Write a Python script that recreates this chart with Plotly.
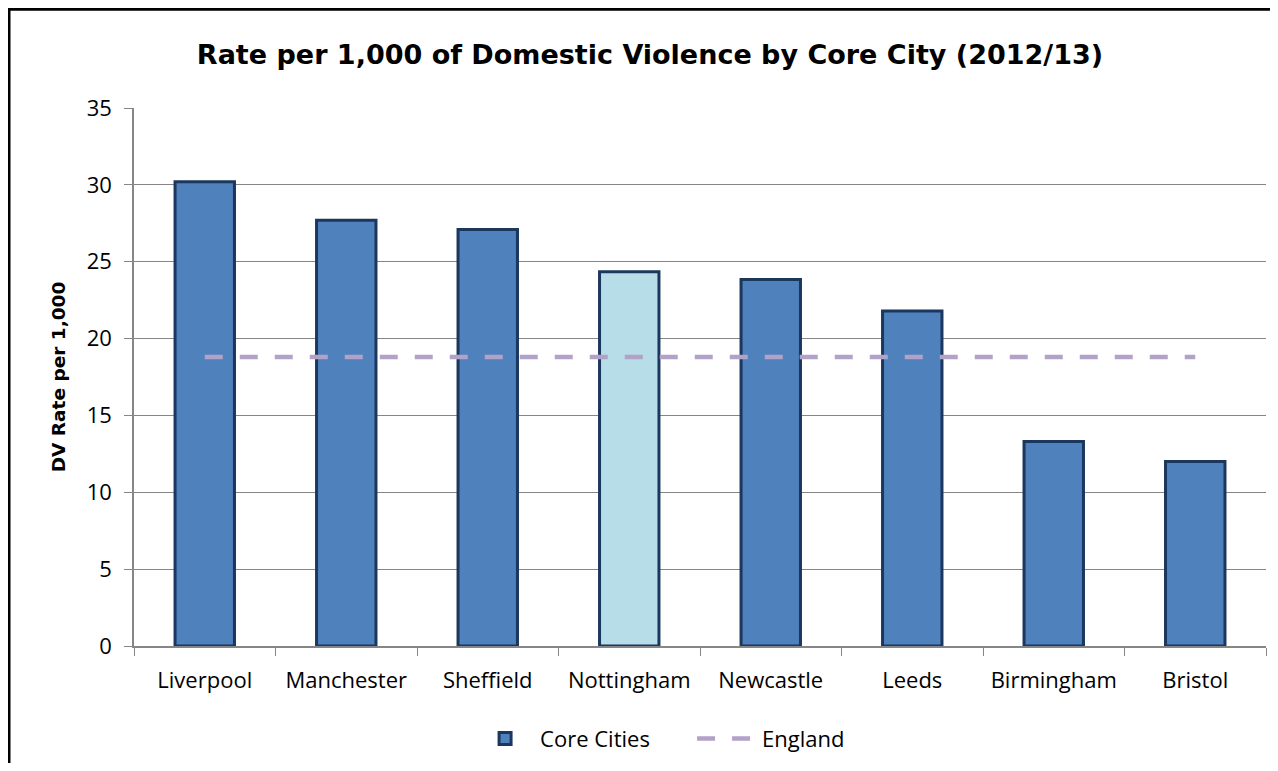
import plotly.graph_objects as go

cities = ["Liverpool", "Manchester", "Sheffield", "Nottingham", "Newcastle", "Leeds", "Birmingham", "Bristol"]
core_rates = [30.2, 27.7, 27.1, 24.35, 23.85, 21.8, 13.3, 12.0]
england_rate = [18.8] * len(cities)
bar_colors = ["#4F81BD", "#4F81BD", "#4F81BD", "#B7DDE8", "#4F81BD", "#4F81BD", "#4F81BD", "#4F81BD"]
y_ticks = [0, 5, 10, 15, 20, 25, 30, 35]

FONT = "Open Sans, Lato, sans-serif"
BOLD_FONT = "DejaVu Sans, Open Sans, sans-serif"

fig = go.Figure()
fig.add_trace(go.Bar(
    x=cities, y=core_rates, name="Core Cities",
    marker=dict(color=bar_colors, line=dict(color="#1B375E", width=3)),
))
fig.add_trace(go.Scatter(
    x=cities, y=england_rate, name="England", mode="lines",
    line=dict(color="#B3A2C7", width=4.5, dash="18px,17px"),
))

W, H = 1262, 755
fig.update_layout(
    width=W, height=H,
    margin=dict(l=126, r=4, t=100, b=116),
    paper_bgcolor="white", plot_bgcolor="white",
    font=dict(family=FONT, color="#000000", size=22),
    title=dict(text="<b>Rate per 1,000 of Domestic Violence by Core City (2012/13)</b>",
               x=0.5087, xanchor="center", y=1 - 47 / H, yanchor="middle",
               font=dict(size=27, family=BOLD_FONT)),
    bargap=0.58,
    showlegend=True,
    legend=dict(orientation="h", x=0.493, xanchor="center", y=-0.17, yanchor="middle",
                font=dict(size=22, family=FONT), itemwidth=60, traceorder="normal",
                entrywidth=147, entrywidthmode="pixels"),
    xaxis=dict(showline=True, linecolor="#868686", linewidth=1.5,
               ticks="outside", tickson="boundaries", ticklen=8, tickcolor="#868686",
               tickfont=dict(size=22, family=FONT), ticklabelstandoff=14),
    yaxis=dict(range=[0, 35], tickvals=y_ticks, showgrid=True, gridcolor="#868686", gridwidth=1,
               showline=True, linecolor="#868686", linewidth=1.5,
               ticks="outside", ticklen=8, tickcolor="#868686",
               tickfont=dict(size=22, family=FONT), ticklabelstandoff=8,
               title=dict(text="<b>DV Rate per 1,000</b>", font=dict(size=18.5, family=BOLD_FONT), standoff=16),
               zeroline=False),
    shapes=[dict(type="rect", xref="paper", yref="paper",
                 x0=-125 / 1132, x1=1.05, y0=-0.3, y1=1 + 99 / 539,
                 line=dict(color="black", width=3), fillcolor="rgba(0,0,0,0)", layer="above")],
)

fig.write_html("out.html")
